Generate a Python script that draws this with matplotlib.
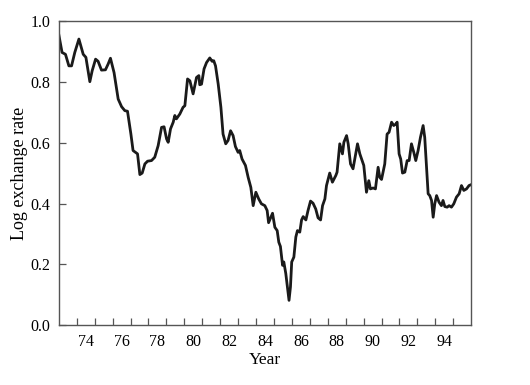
import matplotlib
matplotlib.use('Agg')
import matplotlib.pyplot as plt
from matplotlib.ticker import FixedLocator, NullFormatter, FixedFormatter

plt.rcParams['font.family'] = ['Liberation Serif', 'DejaVu Serif']

# traced log exchange rate series (year, value)
years = [1972.50, 1972.68, 1972.87, 1973.06, 1973.21, 1973.39, 1973.62, 1973.86, 1974.01,
         1974.23, 1974.36, 1974.55, 1974.69, 1974.88, 1975.10, 1975.25, 1975.38, 1975.58,
         1975.81, 1976.00, 1976.18, 1976.33, 1976.52, 1976.64, 1976.78, 1976.89, 1977.02,
         1977.15, 1977.30, 1977.45, 1977.67, 1977.85, 1978.04, 1978.23, 1978.37, 1978.51,
         1978.60, 1978.73, 1978.88, 1978.97, 1979.06, 1979.25, 1979.43, 1979.53, 1979.68,
         1979.81, 1979.99, 1980.18, 1980.31, 1980.36, 1980.46, 1980.60, 1980.74, 1980.92,
         1981.05, 1981.14, 1981.24, 1981.39, 1981.54, 1981.66, 1981.81, 1981.94, 1982.08,
         1982.22, 1982.35, 1982.50, 1982.59, 1982.72, 1982.91, 1983.06, 1983.21, 1983.34,
         1983.49, 1983.65, 1983.80, 1983.99, 1984.12, 1984.20, 1984.42, 1984.55, 1984.68,
         1984.77, 1984.86, 1984.98, 1985.05, 1985.16, 1985.26, 1985.34, 1985.42, 1985.49,
         1985.61, 1985.72, 1985.81, 1985.94, 1986.04, 1986.13, 1986.28, 1986.40, 1986.54,
         1986.68, 1986.83, 1986.96, 1987.10, 1987.21, 1987.34, 1987.43, 1987.61, 1987.76,
         1987.95, 1988.02, 1988.17, 1988.32, 1988.40, 1988.55, 1988.64, 1988.77, 1988.91,
         1989.06, 1989.16, 1989.29, 1989.42, 1989.51, 1989.66, 1989.79, 1989.88, 1990.03,
         1990.16, 1990.31, 1990.40, 1990.50, 1990.68, 1990.81, 1990.92, 1991.06, 1991.18,
         1991.30, 1991.37, 1991.48, 1991.57, 1991.67, 1991.80, 1991.93, 1992.04, 1992.17,
         1992.30, 1992.41, 1992.54, 1992.67, 1992.82, 1992.91, 1993.01, 1993.10, 1993.19,
         1993.29, 1993.38, 1993.47, 1993.57, 1993.71, 1993.84, 1993.93, 1994.03, 1994.16,
         1994.27, 1994.40, 1994.53, 1994.68, 1994.83, 1994.96, 1995.09, 1995.24, 1995.38,
         1995.50]
log_rate = [0.954, 0.896, 0.890, 0.852, 0.852, 0.896, 0.940, 0.890, 0.880,
            0.800, 0.836, 0.874, 0.867, 0.838, 0.839, 0.858, 0.877, 0.830,
            0.743, 0.718, 0.705, 0.703, 0.628, 0.574, 0.568, 0.563, 0.495,
            0.500, 0.530, 0.539, 0.541, 0.552, 0.590, 0.650, 0.652, 0.612,
            0.601, 0.645, 0.667, 0.689, 0.678, 0.694, 0.716, 0.721, 0.809,
            0.803, 0.760, 0.814, 0.820, 0.790, 0.792, 0.842, 0.863, 0.878,
            0.867, 0.869, 0.852, 0.792, 0.716, 0.628, 0.596, 0.607, 0.639,
            0.623, 0.587, 0.568, 0.574, 0.546, 0.525, 0.486, 0.453, 0.393,
            0.437, 0.415, 0.399, 0.393, 0.377, 0.337, 0.368, 0.322, 0.311,
            0.273, 0.259, 0.197, 0.208, 0.170, 0.120, 0.082, 0.126, 0.208,
            0.224, 0.290, 0.311, 0.306, 0.346, 0.357, 0.346, 0.377, 0.408,
            0.401, 0.382, 0.353, 0.346, 0.393, 0.415, 0.459, 0.500, 0.470,
            0.492, 0.503, 0.596, 0.563, 0.601, 0.623, 0.596, 0.530, 0.514,
            0.563, 0.596, 0.563, 0.541, 0.525, 0.437, 0.475, 0.448, 0.451,
            0.448, 0.519, 0.486, 0.479, 0.530, 0.628, 0.634, 0.667, 0.656,
            0.661, 0.667, 0.563, 0.546, 0.500, 0.503, 0.541, 0.541, 0.596,
            0.568, 0.541, 0.574, 0.617, 0.656, 0.617, 0.519, 0.432, 0.426,
            0.410, 0.355, 0.399, 0.426, 0.404, 0.393, 0.410, 0.390, 0.388,
            0.393, 0.388, 0.399, 0.421, 0.432, 0.459, 0.443, 0.448, 0.459,
            0.462]

tick_years = [1973.5 + i for i in range(22)]
label_years = [1974 + 2 * i for i in range(11)]
label_text = [str(y)[2:] for y in label_years]

fig = plt.figure(figsize=(5.3, 3.85), dpi=100)
ax = fig.add_axes([0.111, 0.155, 0.778, 0.791])

ax.plot(years, log_rate, color='#1a1a1a', linewidth=2.0, solid_joinstyle='round')

ax.set_xlim(1972.5, 1995.5)
ax.set_ylim(0.0, 1.0)

ax.xaxis.set_major_locator(FixedLocator(tick_years))
ax.xaxis.set_major_formatter(NullFormatter())
ax.xaxis.set_minor_locator(FixedLocator(label_years))
ax.xaxis.set_minor_formatter(FixedFormatter(label_text))
ax.tick_params(axis='x', which='major', direction='in', length=5, width=0.9,
               color='#555555', top=False)
ax.tick_params(axis='x', which='minor', length=0, pad=6, labelsize=11.5)

ax.set_yticks([0.0, 0.2, 0.4, 0.6, 0.8, 1.0])
ax.set_yticklabels(['0.0', '0.2', '0.4', '0.6', '0.8', '1.0'])
ax.tick_params(axis='y', direction='in', length=5, width=0.9, color='#555555',
               pad=6, labelsize=11.5, right=False)

for s in ax.spines.values():
    s.set_color('#555555')
    s.set_linewidth(1.0)

ax.set_xlabel('Year', fontsize=12.5, labelpad=2)
ax.set_ylabel('Log exchange rate', fontsize=13, labelpad=2)

fig.savefig('out.png', dpi=100)
